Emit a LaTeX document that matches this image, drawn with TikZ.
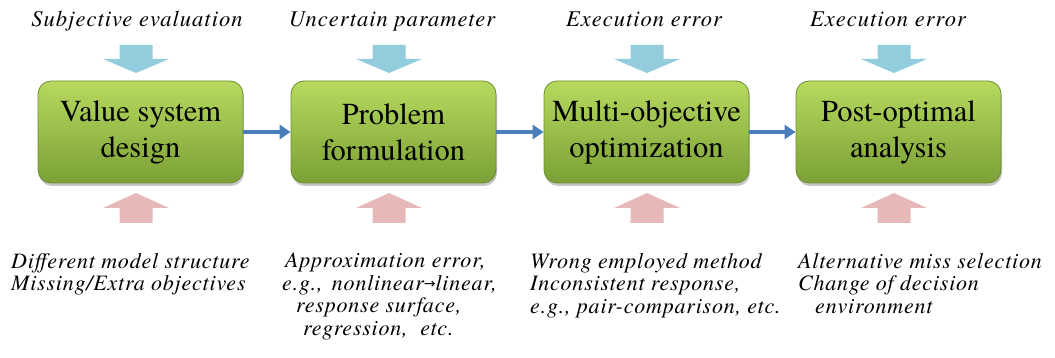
\documentclass[tikz,border=0pt]{standalone}
\usepackage{fontspec}
\IfFontExistsTF{texgyretermes-regular.otf}{%
\setmainfont{texgyretermes}[Extension=.otf,UprightFont=*-regular,ItalicFont=*-italic,BoldFont=*-bold,BoldItalicFont=*-bolditalic]}{}
\newfontfamily\symfont{DejaVu Sans}
\usetikzlibrary{shadows,arrows.meta}
\definecolor{boxtop}{HTML}{B6DA5E}
\definecolor{boxbot}{HTML}{7BA036}
\definecolor{boxedge}{HTML}{6E8F30}
\definecolor{downblue}{HTML}{93CDDD}
\definecolor{uppink}{HTML}{E6B9B8}
\definecolor{linkblue}{HTML}{4A7EBB}
\tikzset{
  stage/.style={rounded corners=13pt, minimum width=205pt, minimum height=102pt,
    top color=boxtop, bottom color=boxbot, draw=boxedge, line width=0.8pt,
    drop shadow={shadow xshift=1pt, shadow yshift=-3pt, opacity=0.45},
    align=center, font=\fontsize{30.5}{36}\selectfont, inner sep=0pt},
  toplabel/.style={font=\fontsize{22.5}{22}\selectfont\itshape\addfontfeature{LetterSpace=4.5}, inner sep=0pt, anchor=base},
  botlabel/.style={font=\fontsize{22}{22.5}\selectfont\itshape\addfontfeature{LetterSpace=3.6}, inner sep=0pt, align=left, anchor=north west},
  link/.style={linkblue, line width=3.2pt, -{Triangle[length=11pt,width=14pt]}},
  downarr/.style={fill=downblue},
  uparr/.style={fill=uppink}
}
\begin{document}
\begin{tikzpicture}[x=1pt,y=-1pt]
\useasboundingbox (0,0) rectangle (1055,358);
% top labels
\node[toplabel] (t1) at (137,27) {Subjective evaluation};
\node[toplabel] (t2) at (392,27) {Uncertain parameter};
\node[toplabel] (t3) at (644,27) {Execution error};
\node[toplabel] (t4) at (888,27) {Execution error};
% down and up block arrows
\foreach \cx in {136,389,647,894}{
  \fill[downarr] (\cx-16.5,45) -- (\cx+16.5,45) -- (\cx+16.5,59) -- (\cx+33,59) -- (\cx,73) -- (\cx-33,59) -- (\cx-16.5,59) -- cycle;
  \fill[uparr] (\cx-16.5,223) -- (\cx+16.5,223) -- (\cx+16.5,208) -- (\cx+33,208) -- (\cx,193) -- (\cx-33,208) -- (\cx-16.5,208) -- cycle;
}
% boxes
\node[stage] (b1) at (140.5,132) {Value system\\design};
\node[stage] (b2) at (393.5,132) {Problem\\formulation};
\node[stage] (b3) at (646.5,132) {Multi-objective\\optimization};
\node[stage] (b4) at (898.5,132) {Post-optimal\\analysis};
% links
\draw[link] (b1.east) -- (b2.west);
\draw[link] (b2.east) -- (b3.west);
\draw[link] (b3.east) -- (b4.west);
% bottom labels
\node[botlabel] (l1) at (11,253) {Different model structure\\Missing/Extra objectives};
\node[botlabel] (l2) at (282,253) {\hspace*{3pt}Approximation error,\\e.g.,\hspace{3pt} nonlinear{\symfont\upshape\fontsize{14}{14}\selectfont\raisebox{1.5pt}{→}}linear,\\\hspace*{14pt}response surface,\\\hspace*{21pt}regression,\ \ etc.};
\node[botlabel] (l3) at (530,253) {Wrong employed method\\Inconsistent response,\\e.g., pair-comparison, etc.};
\node[botlabel] (l4) at (798,253) {Alternative miss selection\\Change of decision\\\hspace*{17pt}environment};
\end{tikzpicture}
\end{document}
